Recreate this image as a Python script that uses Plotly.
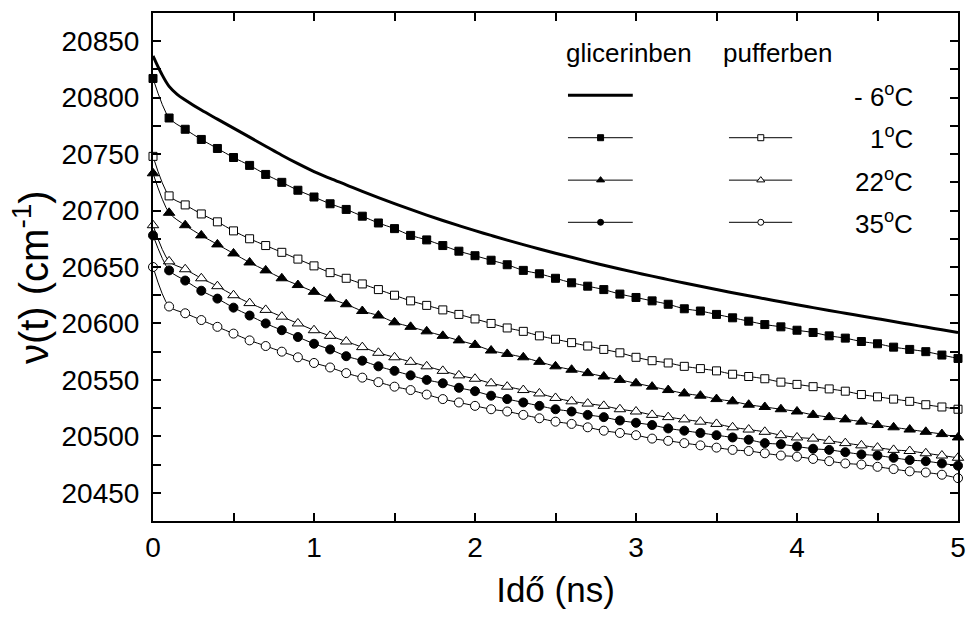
import plotly.graph_objects as go

# ---------------- data ----------------
t = [round(i * 0.1, 1) for i in range(51)]

t_solid = [0.0, 0.05, 0.1, 0.15, 0.2] + [round(0.3 + i * 0.1, 1) for i in range(48)]
glic_m6 = [20837, 20822, 20810, 20803, 20798,
           20789, 20781, 20773, 20765, 20757, 20749, 20741.5, 20734.5, 20728.5, 20722.8,
           20717, 20711.5, 20706.2, 20701, 20696, 20691.2, 20686.6, 20682.2, 20678, 20673.8,
           20669.8, 20666, 20662.2, 20658.6, 20655, 20651.6, 20648.3, 20645, 20641.9, 20638.8,
           20635.8, 20632.9, 20630, 20627.2, 20624.5, 20621.8, 20619.2, 20616.6, 20614, 20611.5,
           20609, 20606.6, 20604.2, 20601.7, 20599.2, 20596.8, 20594.4, 20592]

glic_1 = [20817, 20782, 20772, 20763, 20755, 20747, 20740, 20732, 20725, 20718,
          20712, 20706, 20701, 20695, 20689, 20684, 20678, 20674, 20669, 20664,
          20660, 20656, 20652, 20647, 20644, 20640, 20636, 20633, 20630, 20626,
          20623, 20620, 20617, 20613, 20611, 20608, 20605, 20602, 20599, 20597,
          20594, 20592, 20589, 20587, 20584, 20582, 20579, 20577, 20575, 20572,
          20569]

puff_1 = [20748, 20713, 20705, 20697, 20690, 20682, 20675, 20669, 20663, 20657,
          20651, 20645, 20640, 20635, 20630, 20625, 20620, 20616, 20612, 20608,
          20604, 20600, 20596, 20593, 20589, 20586, 20583, 20580, 20577, 20574,
          20570, 20567, 20565, 20562, 20560, 20558, 20555, 20553, 20551, 20548,
          20546, 20544, 20542, 20540, 20537, 20535, 20533, 20531, 20528, 20526,
          20524]

glic_22 = [20733, 20698, 20687, 20678, 20670, 20662, 20654, 20647, 20640, 20634,
           20628, 20622, 20617, 20611, 20607, 20601, 20597, 20593, 20589, 20585,
           20581, 20576, 20573, 20570, 20566, 20562, 20559, 20556, 20553, 20550,
           20547, 20544, 20541, 20538, 20536, 20533, 20531, 20528, 20526, 20524,
           20522, 20519, 20517, 20515, 20513, 20510, 20508, 20506, 20504, 20502,
           20499]

puff_22 = [20687, 20655, 20648, 20640, 20633, 20625, 20618, 20612, 20606, 20600,
           20594, 20589, 20584, 20579, 20574, 20570, 20566, 20562, 20558, 20554,
           20551, 20547, 20544, 20541, 20538, 20534, 20531, 20529, 20527, 20524,
           20522, 20519, 20517, 20515, 20513, 20511, 20508, 20506, 20504, 20501,
           20499, 20498, 20496, 20494, 20492, 20490, 20488, 20487, 20485, 20483,
           20481]

glic_35 = [20678, 20647, 20638, 20629, 20622, 20614, 20607, 20600, 20594, 20588,
           20582, 20577, 20571, 20567, 20562, 20558, 20554, 20550, 20547, 20543,
           20540, 20536, 20533, 20530, 20527, 20524, 20522, 20519, 20517, 20514,
           20512, 20510, 20507, 20505, 20503, 20501, 20499, 20497, 20494, 20493,
           20491, 20489, 20488, 20486, 20484, 20483, 20481, 20479, 20478, 20476,
           20474]

puff_35 = [20650, 20615, 20609, 20603, 20597, 20591, 20585, 20580, 20575, 20570,
           20565, 20561, 20556, 20552, 20548, 20544, 20541, 20537, 20533, 20530,
           20527, 20524, 20522, 20519, 20516, 20513, 20511, 20508, 20505, 20503,
           20501, 20498, 20496, 20494, 20492, 20490, 20488, 20487, 20485, 20483,
           20482, 20480, 20478, 20476, 20475, 20473, 20471, 20469, 20468, 20466,
           20463]

y_ticks = [20450, 20500, 20550, 20600, 20650, 20700, 20750, 20800, 20850]
x_ticks = [0, 1, 2, 3, 4, 5]
header_labels = ["glicerinben", "pufferben"]
temp_labels = ["- 6<sup>o</sup>C", "1<sup>o</sup>C", "22<sup>o</sup>C", "35<sup>o</sup>C"]
x_title = "Idő (ns)"
y_title = "ν(t) (cm<sup>-1</sup>)"

# ---------------- styling ----------------
FONT = "Liberation Sans, Arial, Helvetica, sans-serif"
BLACK = "black"

fig = go.Figure()

fig.add_trace(go.Scatter(x=t_solid, y=glic_m6, mode="lines",
                         line=dict(color=BLACK, width=3, shape="spline", smoothing=1.0),
                         showlegend=False, hoverinfo="skip"))

series = [
    (glic_1, "square", BLACK, 8),
    (puff_1, "square", "white", 8),
    (glic_22, "triangle-up", BLACK, 10),
    (puff_22, "triangle-up", "white", 10),
    (glic_35, "circle", BLACK, 9),
    (puff_35, "circle", "white", 9),
]
for vals, sym, fill, size in series:
    fig.add_trace(go.Scatter(
        x=t, y=vals, mode="lines+markers", cliponaxis=False,
        line=dict(color=BLACK, width=1, shape="spline", smoothing=0.8),
        marker=dict(symbol=sym, color=fill, size=size, line=dict(color=BLACK, width=1)),
        showlegend=False, hoverinfo="skip"))

# ---------------- legend (drawn on an invisible overlay axis in [0,1]) ----------------
row_y = [0.838, 0.7545, 0.671, 0.588]
gx0, gx1, gxc = 0.5155, 0.596, 0.556
px0, px1, pxc = 0.7155, 0.794, 0.755

fig.add_trace(go.Scatter(x=[gx0, gx1], y=[row_y[0]] * 2, mode="lines",
                         line=dict(color=BLACK, width=3), xaxis="x2", yaxis="y2",
                         showlegend=False, hoverinfo="skip"))
leg_syms = [("square", 6), ("triangle-up", 7), ("circle", 6)]
for i, (sym, sz) in enumerate(leg_syms):
    yy = row_y[i + 1]
    for (a, b, c), fill in (((gx0, gx1, gxc), BLACK), ((px0, px1, pxc), "white")):
        fig.add_trace(go.Scatter(x=[a, b], y=[yy, yy], mode="lines",
                                 line=dict(color=BLACK, width=1), xaxis="x2", yaxis="y2",
                                 showlegend=False, hoverinfo="skip"))
        fig.add_trace(go.Scatter(x=[c], y=[yy], mode="markers",
                                 marker=dict(symbol=sym, size=sz, color=fill,
                                             line=dict(color=BLACK, width=1)),
                                 xaxis="x2", yaxis="y2", showlegend=False, hoverinfo="skip"))

annotations = []
for lab, xc in zip(header_labels, [0.591, 0.776]):
    annotations.append(dict(text=lab, x=xc, y=0.921, xref="paper", yref="paper",
                            showarrow=False, xanchor="center", yanchor="middle",
                            font=dict(family=FONT, size=26, color=BLACK)))
for lab, yy in zip(temp_labels, row_y):
    annotations.append(dict(text=lab, x=0.9466, y=yy, xref="paper", yref="paper",
                            showarrow=False, xanchor="right", yanchor="middle",
                            font=dict(family=FONT, size=26, color=BLACK)))
# y-axis title
annotations.append(dict(text=y_title, x=-0.1516, y=0.48, xref="paper", yref="paper",
                        textangle=-90, showarrow=False, xanchor="center", yanchor="middle",
                        font=dict(family=FONT, size=40, color=BLACK)))

axis_common = dict(showline=True, linewidth=2, linecolor=BLACK, mirror="ticks",
                   ticks="inside", ticklen=8, tickwidth=1.5, tickcolor=BLACK,
                   showgrid=False, zeroline=False, automargin=False,
                   tickfont=dict(family=FONT, size=28, color=BLACK))

fig.update_layout(
    width=970, height=617,
    margin=dict(l=153, r=12, t=13, b=96),
    paper_bgcolor="white", plot_bgcolor="white",
    font=dict(family=FONT, color=BLACK),
    xaxis=dict(range=[0, 5], tickvals=x_ticks, ticktext=[str(v) for v in x_ticks],
               minor=dict(dtick=0.5, tick0=0, ticks="inside", ticklen=8, tickwidth=1.5, tickcolor=BLACK),
               title=dict(text=x_title, font=dict(family=FONT, size=35, color=BLACK), standoff=16),
               **axis_common),
    yaxis=dict(range=[20425, 20875], tickvals=y_ticks, ticktext=[str(v) for v in y_ticks],
               minor=dict(dtick=25, tick0=20450, ticks="inside", ticklen=8, tickwidth=1.5, tickcolor=BLACK),
               ticklabelstandoff=6,
               **axis_common),
    xaxis2=dict(overlaying="x", range=[0, 1], visible=False, anchor="y2"),
    yaxis2=dict(overlaying="y", range=[0, 1], visible=False, anchor="x2"),
    annotations=annotations,
    showlegend=False,
)

fig.write_html("out.html")
